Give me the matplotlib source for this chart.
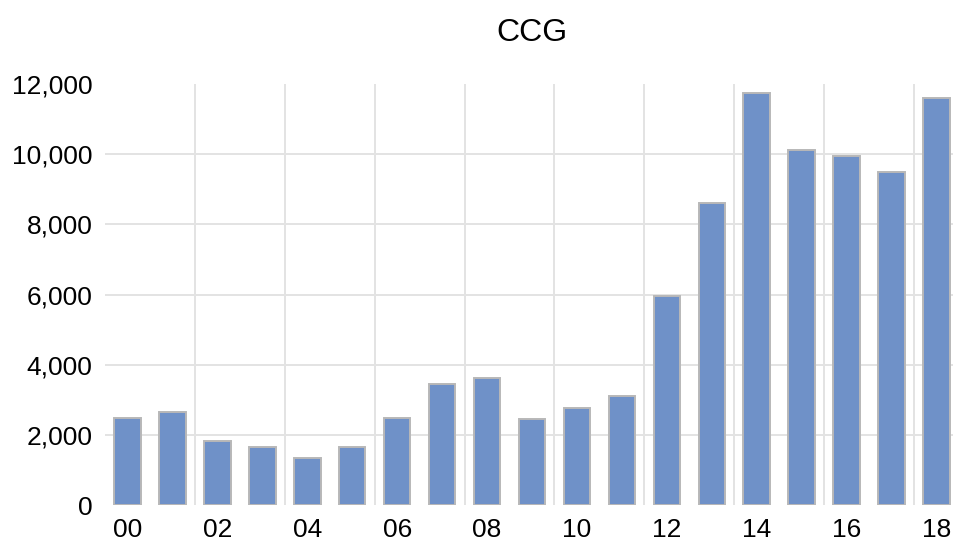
import matplotlib.pyplot as plt
import numpy as np
from matplotlib.ticker import FuncFormatter

plt.rcParams['font.family'] = ['Liberation Sans', 'DejaVu Sans']

# Data
years = ['00', '01', '02', '03', '04', '05', '06', '07', '08', '09',
         '10', '11', '12', '13', '14', '15', '16', '17', '18']
values = [2500, 2670, 1840, 1670, 1340, 1670, 2500, 3450, 3620, 2450,
          2780, 3110, 5950, 8620, 11740, 10120, 9950, 9500, 11610]

x = np.arange(len(years))

fig = plt.figure(figsize=(9.54, 5.43), dpi=100)
ax = fig.add_axes([105 / 954, 37.7 / 543, (959 - 105) / 954, (459 - 37.7) / 543])

ax.bar(x, values, width=0.59, color='#6f91c8', edgecolor='#b8b8b8',
       linewidth=1.4, zorder=3)

ax.set_xlim(-0.5, len(years) - 0.5)
ax.set_ylim(0, 12000)
ax.set_yticks(np.arange(0, 12001, 2000))
ax.yaxis.set_major_formatter(FuncFormatter(lambda v, p: f'{int(v):,}'))

# labels on every other year, grid between category pairs
ax.set_xticks(x[::2])
ax.set_xticklabels(years[::2])
ax.set_xticks(np.arange(1.5, len(years) - 1, 2), minor=True)

ax.grid(axis='x', which='minor', color='#e3e3e3', linewidth=1.4, zorder=0)
ax.grid(axis='y', which='major', color='#e3e3e3', linewidth=1.4, zorder=0)
ax.grid(axis='x', which='major', visible=False)
# hide top and bottom horizontal gridlines
for gl in ax.get_ygridlines()[::6]:
    gl.set_visible(False)

for s in ax.spines.values():
    s.set_visible(False)
ax.tick_params(axis='both', which='both', length=0, labelsize=19,
               colors='black')
ax.tick_params(axis='y', pad=9)
ax.tick_params(axis='x', pad=9)

ax.set_title('CCG', fontsize=23, pad=31)

fig.savefig('out.png', dpi=100)
